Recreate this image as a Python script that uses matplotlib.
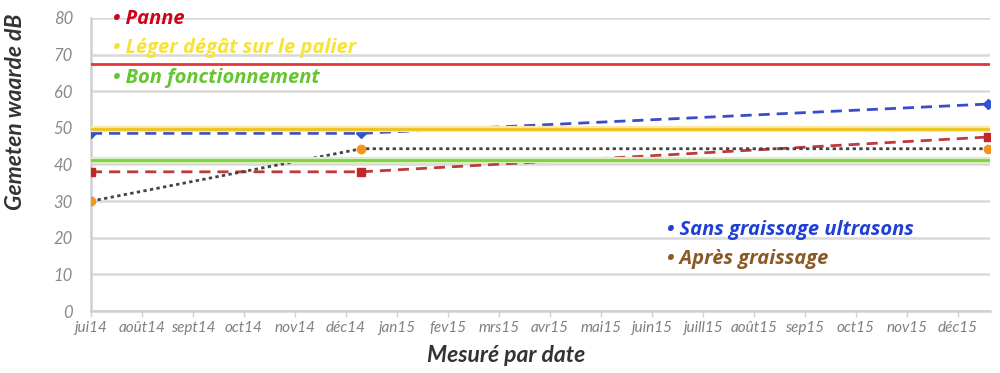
import matplotlib
matplotlib.use("Agg")
import matplotlib.pyplot as plt

# ---- data ----
months = ["jui14", "août14", "sept14", "oct14", "nov14", "déc14", "jan15", "fev15",
          "mrs15", "avr15", "mai15", "juin15", "juill15", "août15", "sep15", "oct15",
          "nov15", "déc15"]
meas_x = [0.0, 5.3, 17.6]          # measurement dates in month units from jui14
sans_graissage = [48.5, 48.5, 56.5]
red_series = [38.0, 38.0, 47.5]
apres_graissage = [30.0, 44.3, 44.3]
panne_level = 67.5
leger_level = 49.7
bon_level = 41.3
yticks = [0, 10, 20, 30, 40, 50, 60, 70, 80]

FONT = "Lato"
NOTE_FONT = "Open Sans"

fig = plt.figure(figsize=(10, 3.73), dpi=100)
ax = fig.add_axes([0.091, 0.166, 0.899, 0.786])

ax.set_xlim(0, 17.63)
ax.set_ylim(0, 80)

# grid
for y in yticks:
    ax.axhline(y, color="#d9d9d9", lw=1.8, zorder=1)

# series
ax.plot(meas_x, sans_graissage, color="#3b4cc8", lw=2, ls=(0, (4, 2.5)),
        marker="D", ms=5, mfc="#2f55d4", mec="#2f55d4", zorder=3)
ax.plot(meas_x, red_series, color="#c0393b", lw=2, ls=(0, (4, 2.5)),
        marker="s", ms=6, mfc="#c0262b", mec="#c0262b", zorder=3)
ax.plot(meas_x, apres_graissage, color="#444444", lw=2, ls=(0, (1.2, 1.2)),
        zorder=3)
ax.plot(meas_x, apres_graissage, ls="none", marker="o", ms=6,
        mfc="#f7941d", mec="#f7941d", zorder=4)

# threshold lines
ax.axhline(panne_level, color="#e5353b", lw=2, zorder=5)
ax.axhline(leger_level, color="#f9e9a8", lw=4.5, zorder=5)
ax.axhline(leger_level, color="#eec21a", lw=2, zorder=5)
ax.axhline(bon_level, color="#d8f0c0", lw=4.5, zorder=5)
ax.axhline(bon_level, color="#7fd03a", lw=2, zorder=5)

# axes styling
for s in ["top", "right"]:
    ax.spines[s].set_visible(False)
ax.spines["left"].set_color("#d0d0d0")
ax.spines["left"].set_linewidth(1.8)
ax.spines["bottom"].set_color("#d0d0d0")
ax.spines["bottom"].set_linewidth(1.8)
ax.spines["left"].set_zorder(2)

ax.set_yticks(yticks)
ax.set_yticklabels([str(v) for v in yticks], fontfamily=FONT, fontstyle="italic",
                   fontsize=12, color="#8a8a8a")
ax.tick_params(axis="y", length=0, pad=13)
ax.set_xticks(range(len(months)))
ax.set_xticklabels(months, fontfamily=FONT, fontstyle="italic",
                   fontsize=11, color="#808080")
ax.tick_params(axis="x", length=4, width=1, color="#d0d0d0", pad=3, direction="out")

# axis titles
fig.text(0.016, 0.70, "Gemeten waarde dB", rotation=90, ha="center", va="center",
         fontfamily=FONT, fontstyle="italic", fontweight="bold", fontsize=16.5,
         color="#333333")
fig.text(0.506, 0.048, "Mesuré par date", ha="center", va="center",
         fontfamily=FONT, fontstyle="italic", fontweight="bold", fontsize=16.5,
         color="#333333")

# annotations
def note(x, y, txt, color):
    fig.text(x / 1000, 1 - y / 373, "• " + txt, ha="left", va="center",
             fontfamily=NOTE_FONT, fontstyle="italic", fontweight="bold", fontsize=14.5,
             color=color, zorder=10)

note(113, 19, "Panne", "#d0021b")
note(113, 48, "Léger dégât sur le palier", "#f5e23a")
note(113, 78, "Bon fonctionnement", "#66c530")
note(667, 230, "Sans graissage ultrasons", "#1f3fd6")
note(667, 259, "Après graissage", "#8b5a24")

fig.savefig("out.png", dpi=100)
